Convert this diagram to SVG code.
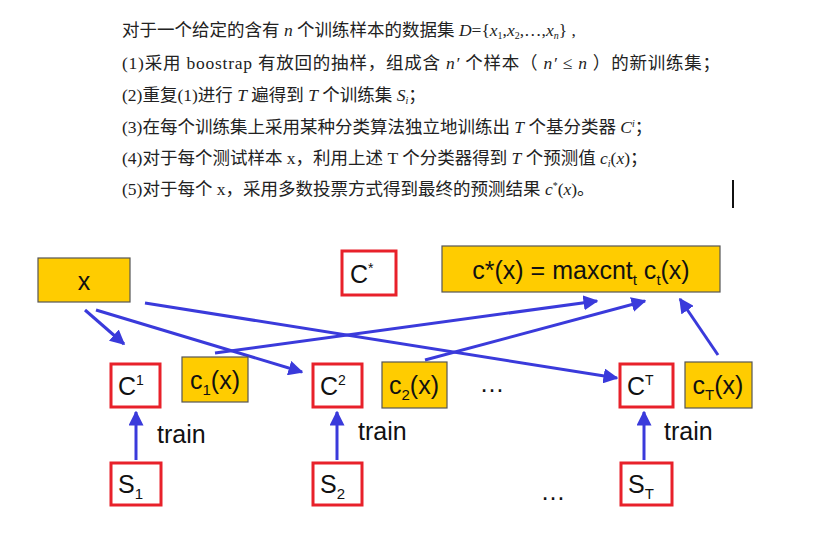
<svg xmlns="http://www.w3.org/2000/svg" width="840" height="557" viewBox="0 0 840 557">
<defs>
<marker id="ah" viewBox="0 0 10 10" refX="9" refY="5" markerWidth="5" markerHeight="5" orient="auto"><path d="M0,0 L10,5 L0,10 z" fill="#3a3adb"/></marker>
<style>
.t{font-family:"Liberation Serif","Noto Sans CJK SC",serif;font-size:17.5px;fill:#222}
.i{font-style:italic}
.r{fill:#fff;stroke:#e8212a;stroke-width:3}
.y{fill:#ffcc00;stroke:#555;stroke-width:1.2}
.l{font-family:"Liberation Sans","DejaVu Sans",sans-serif;font-size:25px;fill:#111}
.c{stroke:#3a3adb;stroke-width:3;fill:none;marker-end:url(#ah)}
</style>
</defs>
<rect width="840" height="557" fill="#fff"/>
<g id="text">
<text class="t" x="122" y="36">对于一个给定的含有 <tspan class="i">n</tspan> 个训练样本的数据集 <tspan class="i">D</tspan>={<tspan class="i">x</tspan><tspan font-size="10" dy="3">1</tspan><tspan dy="-3">,</tspan><tspan class="i">x</tspan><tspan font-size="10" dy="3">2</tspan><tspan dy="-3">,…,</tspan><tspan class="i">x</tspan><tspan font-size="10" dy="3" class="i">n</tspan><tspan dy="-3">} ,</tspan></text>
<text class="t" x="122" y="69" textLength="598">(1)采用 boostrap 有放回的抽样，组成含 <tspan class="i">n′</tspan> 个样本（ <tspan class="i">n′</tspan> ≤ <tspan class="i">n</tspan> ）的新训练集；</text>
<text class="t" x="122" y="101">(2)重复(1)进行 <tspan class="i">T</tspan> 遍得到 <tspan class="i">T</tspan> 个训练集 <tspan class="i">S</tspan><tspan font-size="10" dy="3" class="i">i</tspan><tspan dy="-3">；</tspan></text>
<text class="t" x="122" y="133">(3)在每个训练集上采用某种分类算法独立地训练出 <tspan class="i">T</tspan> 个基分类器 <tspan class="i">C</tspan><tspan font-size="10" dy="-6" class="i">i</tspan><tspan dy="6">；</tspan></text>
<text class="t" x="122" y="164">(4)对于每个测试样本 x，利用上述 T 个分类器得到 <tspan class="i">T</tspan> 个预测值 <tspan class="i">c</tspan><tspan font-size="10" dy="3" class="i">i</tspan><tspan dy="-3">(</tspan><tspan class="i">x</tspan>)；</text>
<text class="t" x="122" y="195">(5)对于每个 x，采用多数投票方式得到最终的预测结果 <tspan class="i">c</tspan><tspan font-size="10" dy="-6">*</tspan><tspan dy="6">(</tspan><tspan class="i">x</tspan>)。</text>
<rect x="732" y="180" width="2" height="28" fill="#111"/>
</g>
<g id="conn">
<line class="c" x1="85" y1="310" x2="124" y2="344"/>
<line class="c" x1="96" y1="310" x2="302" y2="372"/>
<line class="c" x1="145" y1="303" x2="617" y2="378"/>
<line class="c" x1="215" y1="353" x2="597" y2="301"/>
<line class="c" x1="425" y1="360" x2="645" y2="301"/>
<line class="c" x1="718" y1="355" x2="680" y2="299"/>
<line class="c" x1="136" y1="460" x2="136" y2="412"/>
<line class="c" x1="337" y1="460" x2="337" y2="412"/>
<line class="c" x1="644" y1="460" x2="644" y2="412"/>
</g>
<g id="nx"><rect class="y" x="38" y="258" width="92" height="44"/><text class="l" x="84" y="290" text-anchor="middle">x</text></g>
<g id="nCstar"><rect class="r" x="342" y="251" width="54" height="44"/><text class="l" x="350" y="283">C<tspan font-size="14" dy="-10">*</tspan></text></g>
<g id="nres"><rect class="y" x="442" y="246" width="278" height="46"/><text class="l" x="581" y="279" text-anchor="middle">c*(x) = maxcnt<tspan font-size="15" dy="6">t</tspan><tspan dy="-6"> c</tspan><tspan font-size="15" dy="6">t</tspan><tspan dy="-6">(x)</tspan></text></g>
<g id="nC1"><rect class="r" x="111" y="364" width="49" height="43"/><text class="l" x="118" y="395">C<tspan font-size="14" dy="-10">1</tspan></text></g>
<g id="nc1"><rect class="y" x="182" y="357" width="66" height="45"/><text class="l" x="215" y="389" text-anchor="middle">c<tspan font-size="15" dy="6">1</tspan><tspan dy="-6">(x)</tspan></text></g>
<g id="nC2"><rect class="r" x="313" y="364" width="49" height="43"/><text class="l" x="320" y="395">C<tspan font-size="14" dy="-10">2</tspan></text></g>
<g id="nc2"><rect class="y" x="382" y="362" width="65" height="46"/><text class="l" x="414" y="394" text-anchor="middle">c<tspan font-size="15" dy="6">2</tspan><tspan dy="-6">(x)</tspan></text></g>
<g id="nCT"><rect class="r" x="620" y="364" width="53" height="43"/><text class="l" x="627" y="395">C<tspan font-size="14" dy="-10">T</tspan></text></g>
<g id="ncT"><rect class="y" x="685" y="362" width="67" height="46"/><text class="l" x="718" y="394" text-anchor="middle">c<tspan font-size="15" dy="6">T</tspan><tspan dy="-6">(x)</tspan></text></g>
<text class="l" x="492" y="392" text-anchor="middle">…</text>
<text class="l" x="157" y="443">train</text>
<text class="l" x="358" y="440">train</text>
<text class="l" x="664" y="440">train</text>
<g id="nS1"><rect class="r" x="111" y="463" width="50" height="42"/><text class="l" x="118" y="493">S<tspan font-size="15" dy="6">1</tspan></text></g>
<g id="nS2"><rect class="r" x="313" y="463" width="49" height="42"/><text class="l" x="320" y="493">S<tspan font-size="15" dy="6">2</tspan></text></g>
<g id="nST"><rect class="r" x="621" y="463" width="51" height="42"/><text class="l" x="628" y="493">S<tspan font-size="15" dy="6">T</tspan></text></g>
<text class="l" x="553" y="500" text-anchor="middle">…</text>
</svg>
